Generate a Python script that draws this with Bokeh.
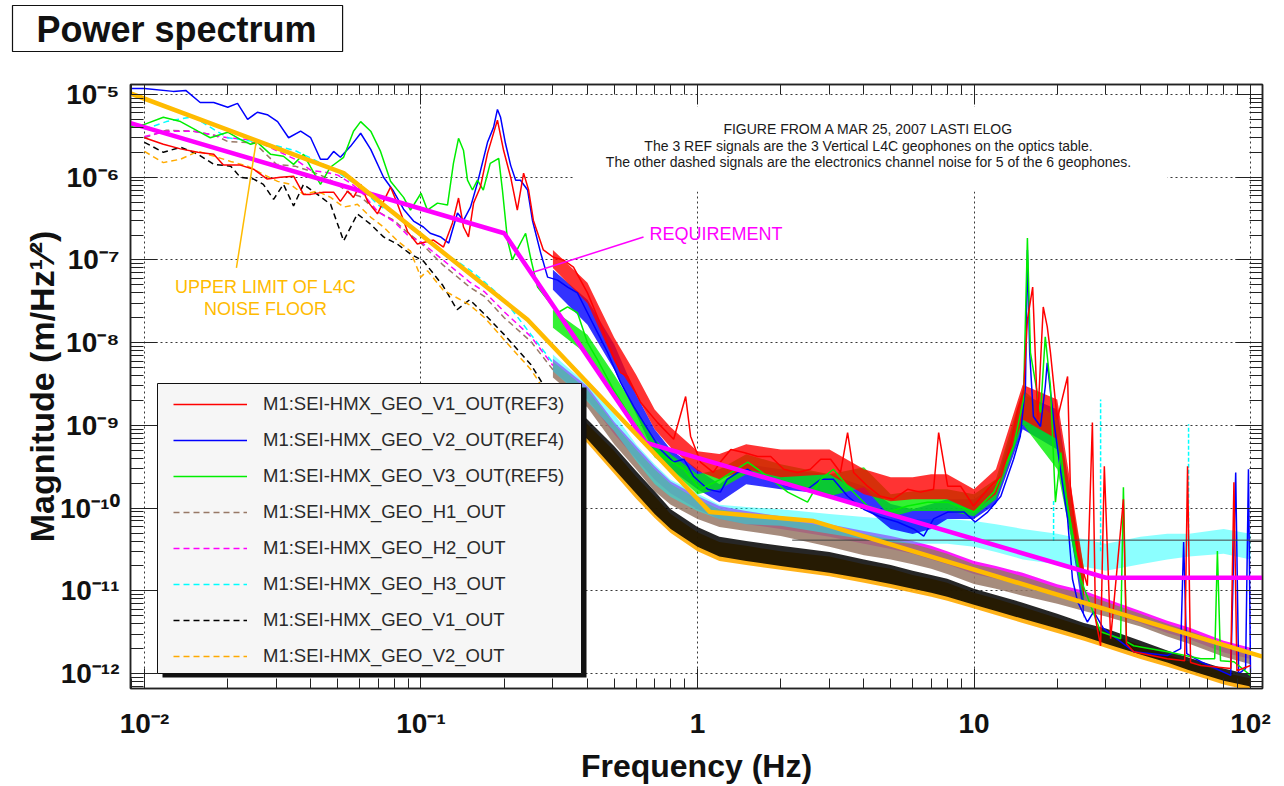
from bokeh.plotting import figure
from bokeh.models import (FixedTicker, LogAxis, Range1d, Label, BoxAnnotation,
                          Legend, LegendItem, Title)
from bokeh.embed import file_html
from bokeh.resources import INLINE

# ---------------- axis values ----------------
x_ticks = [0.01, 0.1, 1.0, 10.0, 100.0]
x_tick_labels = ["10\u207b\u00b2", "10\u207b\u00b9", "1", "10", "10\u00b2"]
y_ticks = [1e-12, 1e-11, 1e-10, 1e-9, 1e-8, 1e-7, 1e-6, 1e-5]
y_tick_labels = ["10\u207b\u00b9\u00b2", "10\u207b\u00b9\u00b9", "10\u207b\u00b9\u2070", "10\u207b\u2079",
                 "10\u207b\u2078", "10\u207b\u2077", "10\u207b\u2076", "10\u207b\u2075"]
X_MIN, X_MAX = 0.0089, 110.5
Y_MIN, Y_MAX = 6.6e-13, 1.32e-5
x_title = "Frequency (Hz)"
y_title = "Magnitude (m/Hz\u00b9\u2044\u00b2)"
chart_title = "Power spectrum"

# ---------------- series (freq Hz, magnitude) ----------------
red_pts = [(0.01,3.0e-6),(0.0117,2.5e-6),(0.0135,2.2e-6),(0.0156,2.0e-6),(0.0178,1.9e-6),(0.0193,1.4e-6),
 (0.0222,1.4e-6),(0.0248,1.25e-6),(0.0278,9.5e-7),(0.031,1.0e-6),(0.0346,1.03e-6),(0.0376,6.2e-7),(0.0399,6.2e-7),
 (0.0444,6.6e-7),(0.0483,6.6e-7),(0.0511,5.1e-7),(0.0543,6.8e-7),(0.057,5.7e-7),(0.0605,8.2e-7),(0.0641,5.1e-7),
 (0.0696,3.6e-7),(0.0732,5.1e-7),(0.0776,7.6e-7),(0.0823,4.7e-7),(0.0894,2.2e-7),(0.097,1.56e-7),(0.111,1.74e-7),
 (0.1206,1.43e-7),(0.130,2.8e-7),(0.1367,5.6e-7),(0.1425,2.5e-7),(0.1485,1.9e-7),(0.155,4.9e-7),(0.164,7.6e-7),
 (0.174,1.94e-6),(0.189,4.9e-6),(0.199,2.1e-6),(0.211,1.0e-6),(0.223,4.0e-7),(0.235,1.12e-6),(0.245,7.0e-7),
 (0.255,3.0e-7),(0.277,1.32e-7),(0.301,1.08e-7),(0.327,1.0e-7),(0.356,8.2e-8),(0.400,4.0e-8),(0.435,2.05e-8),
 (0.473,1.0e-8),(0.527,4.35e-9),(0.559,3.9e-9),(0.623,1.89e-9),(0.717,1.08e-9),(0.82,6.8e-10),(0.906,2.23e-9),
 (0.944,7.4e-10),(1.025,3.6e-10),(1.14,2.7e-10),(1.21,3.6e-10),(1.32,5.1e-10),(1.47,4.7e-10),(1.65,4.2e-10),
 (1.84,4.2e-10),(2.05,2.95e-10),(2.30,2.7e-10),(2.56,2.95e-10),(2.79,3.9e-10),(3.03,3.9e-10),(3.29,2.7e-10),
 (3.49,8.2e-10),(3.67,2.7e-10),(4.12,1.84e-10),(4.59,1.39e-10),(5.11,1.28e-10),(5.75,1.69e-10),(6.41,1.56e-10),
 (7.14,1.69e-10),(7.45,8.2e-10),(8.03,1.84e-10),(8.94,1.84e-10),(9.96,1.06e-10),(11.2,1.69e-10),(12.5,2.43e-10),
 (13.55,5.6e-10),(14.4,1.56e-9),(15.1,2.5e-9),(15.6,1.89e-8),(16.3,4.7e-8),(17.0,1.18e-9),(17.8,2.7e-8),
 (18.4,1.56e-8),(18.9,7.6e-9),(20.0,1.18e-9),(21.8,3.9e-9),(22.3,1.84e-10),(23.7,2.95e-11),(25.7,1.15e-11),
 (26.8,1.08e-9),(27.5,4.6e-12),(28.7,2.17e-12),(29.6,3.2e-10),(31.2,2.64e-12),(34.7,1.28e-10),(35.6,2.3e-12),
 (37.8,1.84e-12),(50.0,1.51e-12),(57.8,1.43e-12),(59.2,3.2e-10),(60.7,1.36e-12),(66.1,1.25e-12),(84.8,1.15e-12),
 (87.1,2.05e-10),(89.3,1.08e-12),(100,1.25e-12)]

blue_pts = [(0.0089,1.18e-5),(0.01,1.18e-5),(0.0127,1.09e-5),(0.0141,1.12e-5),(0.0159,8.0e-6),(0.0178,8.0e-6),
 (0.020,7.0e-6),(0.0217,7.8e-6),(0.0236,5.0e-6),(0.0256,6.1e-6),(0.0278,5.7e-6),(0.0303,4.7e-6),(0.0332,3.0e-6),
 (0.0367,3.6e-6),(0.0399,3.0e-6),(0.0433,1.65e-6),(0.0459,1.65e-6),(0.0483,2.05e-6),(0.0511,1.74e-6),
 (0.0556,2.36e-6),(0.0605,3.4e-6),(0.0658,2.17e-6),(0.0732,1.0e-6),(0.0795,6.8e-7),(0.0865,4.1e-7),(0.094,2.95e-7),
 (0.102,2.5e-7),(0.108,2.1e-7),(0.118,1.89e-7),(0.126,1.6e-7),(0.130,2.3e-7),(0.1355,3.7e-7),(0.1425,3.0e-7),
 (0.151,4.35e-7),(0.160,8.5e-7),(0.174,2.64e-6),(0.183,4.0e-6),(0.189,6.6e-6),(0.194,5.3e-6),(0.202,2.57e-6),
 (0.211,1.39e-6),(0.220,9.2e-7),(0.229,9.2e-7),(0.243,7.0e-7),(0.253,3.0e-7),(0.271,1.21e-7),(0.287,6.2e-8),
 (0.312,5.7e-8),(0.339,4.7e-8),(0.368,4.0e-8),(0.400,2.3e-8),(0.435,1.32e-8),(0.473,7.6e-9),(0.527,3.3e-9),
 (0.588,1.69e-9),(0.661,8.95e-10),(0.735,5.1e-10),(0.82,3.6e-10),(0.893,3.9e-10),(0.967,2.43e-10),(1.09,1.69e-10),
 (1.21,1.56e-10),(1.28,2.23e-10),(1.40,2.7e-10),(1.52,2.95e-10),(1.65,2.43e-10),(1.84,2.23e-10),(2.12,1.84e-10),
 (2.50,1.69e-10),(2.79,2.23e-10),(3.10,2.23e-10),(3.49,1.39e-10),(3.99,9.7e-11),(4.59,7.8e-11),(5.29,6.8e-11),
 (6.05,5.6e-11),(6.58,4.6e-11),(7.14,7.4e-11),(8.03,8.95e-11),(9.21,8.95e-11),(10.1,6.8e-11),(11.2,8.95e-11),
 (12.5,1.39e-10),(13.9,3.9e-10),(14.7,7.4e-10),(15.35,2.95e-9),(15.6,1.32e-7),(15.9,7.6e-9),(16.4,1.28e-9),
 (17.4,9.7e-10),(18.1,2.95e-9),(18.4,5.7e-9),(19.4,1.18e-9),(20.6,2.7e-10),(21.8,7.4e-11),(22.7,1.39e-11),
 (23.7,7.4e-12),(25.7,4.2e-12),(27.1,5.6e-12),(29.4,3.5e-12),(37.8,1.84e-12),(50,1.65e-12),(55.9,2.0e-12),
 (57.3,3.9e-11),(58.8,1.74e-12),(66.1,1.39e-12),(84.8,9.5e-13),(88.4,2.7e-10),(90.6,1.0e-12),(96,1.15e-12),
 (98.3,2.95e-10),(100,1.03e-12)]

green_pts = [(0.0089,4.1e-6),(0.01,4.35e-6),(0.0117,5.3e-6),(0.0135,4.7e-6),(0.0156,3.6e-6),(0.0173,3.0e-6),
 (0.020,3.5e-6),(0.0222,2.87e-6),(0.0242,2.5e-6),(0.0256,2.64e-6),(0.0286,1.89e-6),(0.0318,1.79e-6),(0.0346,1.43e-6),
 (0.0376,1.89e-6),(0.0399,1.32e-6),(0.0433,8.2e-7),(0.047,1.32e-6),(0.0525,1.74e-6),(0.057,3.6e-6),(0.0605,4.7e-6),
 (0.0658,3.6e-6),(0.0714,2.05e-6),(0.0776,8.95e-7),(0.0865,5.7e-7),(0.0916,4.0e-7),(0.1,6.4e-7),(0.1055,4.0e-7),
 (0.1147,4.86e-7),(0.1247,4.6e-7),(0.131,1.47e-6),(0.1367,2.95e-6),(0.1425,2.1e-6),(0.1473,9.2e-7),(0.1535,7.0e-7),
 (0.160,9.2e-7),(0.168,7.0e-7),(0.178,1.47e-6),(0.191,1.69e-6),(0.197,7.0e-7),(0.2055,1.74e-7),(0.214,1.0e-7),
 (0.225,1.43e-7),(0.239,2.1e-7),(0.250,1.0e-7),(0.264,4.7e-8),(0.287,3.3e-8),(0.312,2.3e-8),(0.339,2.7e-8),
 (0.368,2.3e-8),(0.400,1.0e-8),(0.435,6.2e-9),(0.497,2.7e-9),(0.559,1.43e-9),(0.623,7.4e-10),(0.69,5.1e-10),
 (0.779,3.9e-10),(0.893,2.95e-10),(1.025,1.69e-10),(1.21,2.23e-10),(1.52,3.6e-10),(1.79,2.43e-10),(2.12,1.56e-10),
 (2.50,1.18e-10),(2.79,2.23e-10),(3.10,2.95e-10),(3.49,1.84e-10),(4.12,1.06e-10),(4.87,8.95e-11),(5.75,1.06e-10),
 (6.79,1.18e-10),(8.03,1.18e-10),(10,8.95e-11),(11.8,1.56e-10),(13.9,5.6e-10),(15.1,2.05e-9),(15.6,1.84e-7),
 (16.0,7.6e-9),(17.4,1.43e-9),(18.1,1.18e-8),(18.9,2.95e-9),(19.7,1.18e-10),(20.6,4.7e-10),(21.8,1.06e-10),
 (22.9,4.2e-11),(24.3,1.39e-11),(28.7,3.2e-12),(33.9,2.64e-12),(34.7,1.79e-10),(35.6,2.43e-12),(37.8,2.17e-12),
 (50,1.84e-12),(66.1,1.51e-12),(74.2,1.51e-12),(75.9,3.03e-11),(77.9,1.43e-12),(87.1,1.39e-12),(100,9.5e-13)]

h1_pts = [(0.01,3.0e-6),(0.012,3.7e-6),(0.015,3.6e-6),(0.018,3.2e-6),(0.02,2.7e-6),(0.025,2.6e-6),(0.03,1.43e-6),
 (0.035,1.36e-6),(0.04,1.18e-6),(0.045,1.0e-6),(0.05,8.2e-7),(0.055,6.4e-7),(0.06,5.9e-7),(0.07,3.8e-7),(0.08,3.0e-7),
 (0.09,2.1e-7),(0.1,1.6e-7),(0.12,8.7e-8),(0.15,4.7e-8),(0.17,3.6e-8),(0.2,2.0e-8),(0.25,1.03e-8),(0.3,4.7e-9)]
h2_pts = [(0.01,3.1e-6),(0.012,3.6e-6),(0.015,3.6e-6),(0.018,3.2e-6),(0.02,3.0e-6),(0.025,2.8e-6),(0.03,2.1e-6),
 (0.035,1.65e-6),(0.04,1.21e-6),(0.045,1.15e-6),(0.05,1.06e-6),(0.055,8.7e-7),(0.06,7.0e-7),(0.07,3.8e-7),(0.08,2.9e-7),
 (0.09,1.95e-7),(0.1,1.65e-7),(0.12,1.0e-7),(0.15,5.4e-8),(0.17,4.1e-8),(0.2,2.36e-8),(0.25,1.18e-8),(0.3,5.3e-9)]
h3_pts = [(0.01,3.8e-6),(0.012,4.7e-6),(0.015,5.4e-6),(0.018,3.7e-6),(0.02,3.0e-6),(0.025,2.7e-6),(0.03,2.4e-6),
 (0.035,2.1e-6),(0.04,1.7e-6),(0.045,1.4e-6),(0.05,1.15e-6),(0.055,9.2e-7),(0.06,7.8e-7),(0.07,4.6e-7),(0.08,3.6e-7),
 (0.09,2.6e-7),(0.1,2.1e-7),(0.12,1.25e-7),(0.15,7.6e-8),(0.17,5.4e-8),(0.2,3.3e-8),(0.25,1.25e-8),(0.3,5.7e-9)]
v1_pts = [(0.01,2.64e-6),(0.0117,2.0e-6),(0.0135,2.3e-6),(0.0156,1.9e-6),(0.0178,1.43e-6),(0.0205,1.36e-6),
 (0.0222,1.0e-6),(0.0248,9.5e-7),(0.0269,8.2e-7),(0.0293,5.4e-7),(0.0318,8.2e-7),(0.0346,4.5e-7),(0.0376,8.2e-7),
 (0.0422,6.2e-7),(0.0471,4.7e-7),(0.0525,1.7e-7),(0.0589,3.6e-7),(0.0657,2.7e-7),(0.0732,1.9e-7),(0.0822,1.55e-7),
 (0.0916,1.18e-7),(0.102,9.7e-8),(0.12,4.9e-8),(0.135,2.5e-8),(0.15,3.3e-8),(0.17,2.2e-8),(0.2,1.25e-8),
 (0.25,5.4e-9),(0.3,2.0e-9)]
v2_pts = [(0.01,2.05e-6),(0.0117,1.5e-6),(0.0135,1.65e-6),(0.0156,2.05e-6),(0.0178,1.8e-6),(0.0205,1.55e-6),
 (0.0236,1.36e-6),(0.0269,1.08e-6),(0.0303,8.9e-7),(0.0337,8.2e-7),(0.0376,6.2e-7),(0.0422,6.8e-7),(0.0471,5.7e-7),
 (0.0525,4.35e-7),(0.0589,4.7e-7),(0.0657,3.3e-7),(0.0732,2.5e-7),(0.0822,1.7e-7),(0.0916,1.28e-7),(0.0998,6.2e-8),
 (0.1056,7.4e-8),(0.12,4.35e-8),(0.15,2.85e-8),(0.17,2.0e-8),(0.2,1.08e-8),(0.25,4.7e-9),(0.3,1.85e-9)]

# dense-noise envelopes (upper / lower edge of each fuzzy trace)
band_f = [0.3,0.4,0.5,0.6,0.7,0.8,1.0,1.2,1.5,2,3,4,5,6,7,8,10,12,15,20,25,30,40,50,60,80,100]
h1_hi = [5.9e-9,2.7e-9,1.03e-9,5.1e-10,2.95e-10,1.95e-10,1.28e-10,9.7e-11,8.5e-11,7.4e-11,5.9e-11,4.9e-11,4.2e-11,
 3.7e-11,3.2e-11,2.8e-11,2.1e-11,1.85e-11,1.5e-11,1.1e-11,9.2e-12,7.4e-12,5.3e-12,4.0e-12,3.3e-12,2.3e-12,1.9e-12]
h1_lo = [3.8e-9,1.65e-9,5.9e-10,2.95e-10,1.6e-10,1.1e-10,7.4e-11,5.9e-11,5.3e-11,4.6e-11,3.4e-11,2.7e-11,2.4e-11,
 2.1e-11,1.85e-11,1.6e-11,1.21e-11,1.06e-11,8.7e-12,7.0e-12,5.7e-12,4.9e-12,3.7e-12,2.8e-12,2.3e-12,1.6e-12,1.3e-12]
h2_hi = [6.4e-9,2.95e-9,1.1e-9,5.6e-10,3.2e-10,2.1e-10,1.4e-10,1.06e-10,9.2e-11,8.0e-11,6.4e-11,5.3e-11,4.6e-11,
 4.0e-11,3.5e-11,3.0e-11,2.3e-11,2.0e-11,1.65e-11,1.2e-11,1.0e-11,8.0e-12,5.7e-12,4.35e-12,3.6e-12,2.5e-12,2.05e-12]
h2_lo = [4.5e-9,2.05e-9,7.8e-10,3.9e-10,2.2e-10,1.5e-10,9.7e-11,7.4e-11,6.4e-11,5.6e-11,4.5e-11,3.7e-11,3.2e-11,
 2.8e-11,2.4e-11,2.1e-11,1.6e-11,1.4e-11,1.15e-11,8.5e-12,7.0e-12,5.6e-12,4.1e-12,3.1e-12,2.6e-12,1.8e-12,1.5e-12]
h3_hi = [7.2e-9,3.1e-9,1.36e-9,5.9e-10,3.4e-10,2.2e-10,1.5e-10,1.1e-10,1.03e-10,9.7e-11,8.5e-11,7.8e-11,7.4e-11,
 7.4e-11,7.4e-11,7.4e-11,7.0e-11,6.4e-11,5.6e-11,4.9e-11,4.2e-11,3.7e-11,4.5e-11,4.9e-11,4.9e-11,5.6e-11,4.9e-11]
h3_lo = [4.5e-9,1.95e-9,8.5e-10,3.7e-10,1.95e-10,1.36e-10,9.2e-11,7.4e-11,6.4e-11,6.1e-11,4.9e-11,4.2e-11,3.9e-11,
 3.7e-11,3.7e-11,3.7e-11,3.4e-11,2.95e-11,2.4e-11,2.1e-11,1.95e-11,1.75e-11,2.1e-11,2.4e-11,2.6e-11,2.8e-11,2.4e-11]
v1_hi = [2.7e-9,1.18e-9,5.6e-10,2.8e-10,1.6e-10,9.7e-11,5.9e-11,4.5e-11,4.0e-11,3.5e-11,2.95e-11,2.4e-11,2.05e-11,
 1.75e-11,1.55e-11,1.4e-11,1.06e-11,8.9e-12,7.2e-12,5.3e-12,4.1e-12,3.5e-12,2.5e-12,1.9e-12,1.55e-12,1.15e-12,9.7e-13]
v1_lo = [1.55e-9,6.8e-10,2.95e-10,1.5e-10,8.5e-11,5.6e-11,3.4e-11,2.6e-11,2.3e-11,2.0e-11,1.65e-11,1.4e-11,1.21e-11,
 1.06e-11,9.5e-12,8.5e-12,6.8e-12,5.7e-12,4.6e-12,3.5e-12,2.8e-12,2.3e-12,1.7e-12,1.36e-12,1.1e-12,8.2e-13,7.0e-13]
v2_hi = [2.36e-9,1.03e-9,4.9e-10,2.4e-10,1.4e-10,8.5e-11,5.1e-11,3.9e-11,3.5e-11,3.0e-11,2.6e-11,2.1e-11,1.85e-11,
 1.55e-11,1.4e-11,1.25e-11,9.5e-12,8.0e-12,6.4e-12,4.7e-12,3.7e-12,3.1e-12,2.2e-12,1.7e-12,1.4e-12,1.03e-12,8.7e-13]
v2_lo = [1.4e-9,6.1e-10,2.6e-10,1.3e-10,7.6e-11,5.0e-11,3.0e-11,2.3e-11,2.05e-11,1.8e-11,1.5e-11,1.25e-11,1.08e-11,
 9.5e-12,8.5e-12,7.6e-12,6.1e-12,5.1e-12,4.1e-12,3.1e-12,2.5e-12,2.05e-12,1.5e-12,1.21e-12,1.0e-12,7.4e-13,6.2e-13]

ref_band_f = [0.3,0.4,0.5,0.6,0.7,0.8,1.0,1.2,1.5,2,3,4,5,6,7,8,10,12,15,20,25]
red_hi = [1.32e-7,5.3e-8,1.15e-8,4.1e-9,1.56e-9,9.5e-10,4.86e-10,4.5e-10,5.9e-10,5.1e-10,5.1e-10,2.95e-10,2.36e-10,
 2.36e-10,2.57e-10,2.57e-10,1.69e-10,2.95e-10,3.1e-9,2.05e-9,1.84e-11]
red_lo = [8.0e-8,3.0e-8,5.9e-9,2.36e-9,8.95e-10,5.4e-10,2.8e-10,2.23e-10,2.95e-10,2.36e-10,2.57e-10,1.47e-10,1.21e-10,
 1.28e-10,1.28e-10,1.28e-10,9.2e-11,1.47e-10,1.18e-9,6.8e-10,8.0e-12]
blue_hi = [7.6e-8,3.3e-8,9.5e-9,2.36e-9,8.95e-10,5.1e-10,2.95e-10,1.94e-10,3.4e-10,2.95e-10,2.57e-10,1.84e-10,1.12e-10,
 9.7e-11,1.12e-10,1.28e-10,1.28e-10,1.94e-10,2.36e-9,1.56e-9,1.21e-11]
blue_lo = [4.35e-8,1.65e-8,4.7e-9,1.36e-9,4.47e-10,2.95e-10,1.69e-10,1.18e-10,1.94e-10,1.69e-10,1.47e-10,1.03e-10,5.6e-11,
 4.86e-11,5.6e-11,7.4e-11,7.4e-11,1.12e-10,8.95e-10,5.1e-10,4.6e-12]
green_hi = [2.5e-8,1.25e-8,4.1e-9,1.56e-9,6.8e-10,4.47e-10,2.57e-10,2.95e-10,4.47e-10,3.4e-10,2.57e-10,3.12e-10,1.47e-10,
 1.6e-10,1.69e-10,1.69e-10,1.47e-10,2.23e-10,2.71e-9,1.18e-9,1.84e-11]
green_lo = [1.51e-8,7.16e-9,2.36e-9,8.95e-10,4.1e-10,2.95e-10,1.47e-10,1.69e-10,2.57e-10,1.94e-10,1.39e-10,1.79e-10,7.8e-11,
 9.2e-11,9.2e-11,9.2e-11,8.0e-11,1.28e-10,1.03e-9,2.95e-10,7.0e-12]

# isolated H3 lines
h3_spike_f = [19.4, 28.7, 59.7]
h3_spike_base = [4.0e-11, 3.0e-11, 3.5e-11]
h3_spike_top = [1.29e-10, 2.06e-9, 1.03e-9]

# reference line at ~4e-11
flat_f = [2.2, 110.5]
flat_a = [4.1e-11, 4.1e-11]

# requirement and L4C noise-floor curves
req_f = [0.0089, 0.2, 0.65, 30.0, 110.5]
req_a = [4.5e-6, 2.1e-7, 6.2e-10, 1.44e-11, 1.44e-11]
lim_f = [0.0089, 0.0525, 0.243, 1.11, 2.63, 110.5]
lim_a = [1.03e-5, 1.12e-6, 1.89e-8, 8.95e-11, 6.97e-11, 1.6e-12]
req_ptr_f, req_ptr_a = [0.638, 0.251], [1.89e-7, 7.0e-8]
lim_ptr_f, lim_ptr_a = [0.0215, 0.0254], [8.0e-8, 2.8e-6]

legend_labels = ["M1:SEI-HMX_GEO_V1_OUT(REF3)", "M1:SEI-HMX_GEO_V2_OUT(REF4)", "M1:SEI-HMX_GEO_V3_OUT(REF5)",
                 "M1:SEI-HMX_GEO_H1_OUT", "M1:SEI-HMX_GEO_H2_OUT", "M1:SEI-HMX_GEO_H3_OUT",
                 "M1:SEI-HMX_GEO_V1_OUT", "M1:SEI-HMX_GEO_V2_OUT"]
header_lines = ["FIGURE FROM A MAR 25, 2007 LASTI ELOG",
                "The 3 REF signals are the 3 Vertical L4C geophones on the optics table.",
                "The other dashed signals are the electronics channel noise for 5 of the 6 geophones."]

# ---------------- layout constants (page pixels) ----------------
W, H = 1284, 786
FL, FT, FR, FB = 130, 84, 1262, 690
def sx(px): return px - FL
def sy(py): return FB - py

FONT = "Liberation Sans"
RED, BLUE, GREEN = "#ff0000", "#0000ff", "#00ee00"
BROWN, MAGENTA, CYAN, BLACK, ORANGE = "#977866", "#ff00ff", "#00ffff", "#000000", "#ffaa00"
THICK_ORANGE = "#ffbb00"

x_minor = [m * 10.0 ** n for n in range(-3, 3) for m in range(2, 10)]
y_minor = [m * 10.0 ** n for n in range(-13, -4) for m in range(2, 10)]
xt = FixedTicker(ticks=x_ticks, minor_ticks=x_minor)
yt = FixedTicker(ticks=y_ticks, minor_ticks=y_minor)

p = figure(width=W, height=H, x_axis_type="log", y_axis_type="log",
           x_range=Range1d(X_MIN, X_MAX), y_range=Range1d(Y_MIN, Y_MAX),
           output_backend="svg", toolbar_location=None, title=None,
           min_border_left=FL, min_border_top=FT,
           min_border_right=W - FR, min_border_bottom=H - FB)
p.background_fill_color = "white"
p.border_fill_color = "white"
p.outline_line_color = "#222222"
p.outline_line_width = 1.5

def style_axis(ax, major, minor):
    ax.major_tick_in = major
    ax.major_tick_out = 0
    ax.minor_tick_in = minor
    ax.minor_tick_out = 0
    ax.major_tick_line_color = "#222222"
    ax.minor_tick_line_color = "#222222"
    ax.axis_line_color = "#222222"
    ax.axis_line_width = 1.5
    ax.major_label_text_font = FONT
    ax.major_label_text_font_style = "bold"
    ax.major_label_text_font_size = "28px"
    ax.major_label_text_color = "#111111"
    ax.axis_label_text_font = FONT
    ax.axis_label_text_font_style = "bold"
    ax.axis_label_text_color = "#111111"

xa = p.xaxis[0]
xa.ticker = xt
style_axis(xa, 20, 10)
xa.major_label_overrides = dict(zip(x_ticks, x_tick_labels))
xa.major_label_standoff = 19
xa.axis_label = x_title
xa.axis_label_text_font_size = "32px"
xa.axis_label_standoff = 6

ya = p.yaxis[0]
ya.ticker = yt
style_axis(ya, 27, 13)
ya.major_label_overrides = dict(zip(y_ticks, y_tick_labels))
ya.major_label_standoff = 11
ya.axis_label = y_title
ya.axis_label_text_font_size = "34px"
ya.axis_label_standoff = -4

# tick-only axes on the top and right edges; the top one keeps a blank
# label slot so that the boxed title sits higher in the margin
top_ax = LogAxis(ticker=xt)
style_axis(top_ax, 20, 10)
top_ax.major_label_text_font_size = "1px"
top_ax.major_label_text_alpha = 0.0
top_ax.major_label_standoff = 0
top_ax.axis_label = "\u00a0"
top_ax.axis_label_text_font_size = "26px"
top_ax.axis_label_text_alpha = 0.0
top_ax.axis_label_standoff = 0
p.add_layout(top_ax, "above")
right_ax = LogAxis(ticker=yt)
style_axis(right_ax, 27, 13)
right_ax.major_label_text_font_size = "1px"
right_ax.major_label_text_alpha = 0.0
right_ax.major_label_standoff = 0
p.add_layout(right_ax, "right")

# boxed title in the top margin
title = Title(text=chart_title, align="left", offset=-118, standoff=0,
              text_font=FONT, text_font_size="36px", text_font_style="bold", text_color="#111111",
              background_fill_color="white", border_line_color="#111111", border_line_width=1.2,
              padding=dict(left=24, right=26, top=3, bottom=2))
p.add_layout(title, "above")

for g, t in ((p.xgrid[0], xt), (p.ygrid[0], yt)):
    g.ticker = t
    g.grid_line_color = "#222222"
    g.grid_line_dash = "2 3"
    g.grid_line_width = 1
    g.grid_line_alpha = 0.9

def xy(pts):
    return [a for a, _ in pts], [b for _, b in pts]

DASH = "6 4"
# noise envelopes (dense part)
p.varea(x=band_f, y1=h2_lo, y2=h2_hi, fill_color=MAGENTA, fill_alpha=0.9)
p.varea(x=band_f, y1=h1_lo, y2=h1_hi, fill_color=BROWN, fill_alpha=0.85)
p.varea(x=band_f, y1=h3_lo, y2=h3_hi, fill_color=CYAN, fill_alpha=0.45)
p.varea(x=band_f, y1=v2_lo, y2=v2_hi, fill_color=ORANGE, fill_alpha=0.9)
p.varea(x=band_f, y1=v1_lo, y2=v1_hi, fill_color=BLACK, fill_alpha=0.85)
p.segment(x0=h3_spike_f, y0=h3_spike_base, x1=h3_spike_f, y1=h3_spike_top,
          line_color=CYAN, line_width=1.5, line_dash="4 2")
# noise traces (sparse part)
fx, ay = xy(h1_pts); r_h1 = p.line(fx, ay, line_color=BROWN, line_width=1.5, line_dash=DASH)
fx, ay = xy(h2_pts); r_h2 = p.line(fx, ay, line_color=MAGENTA, line_width=1.5, line_dash=DASH)
fx, ay = xy(h3_pts); r_h3 = p.line(fx, ay, line_color=CYAN, line_width=1.5, line_dash=DASH)
fx, ay = xy(v1_pts); r_v1 = p.line(fx, ay, line_color=BLACK, line_width=1.5, line_dash=DASH)
fx, ay = xy(v2_pts); r_v2 = p.line(fx, ay, line_color=ORANGE, line_width=1.5, line_dash=DASH)

# REF traces
p.varea(x=ref_band_f, y1=blue_lo, y2=blue_hi, fill_color=BLUE, fill_alpha=0.8)
p.varea(x=ref_band_f, y1=green_lo, y2=green_hi, fill_color=GREEN, fill_alpha=0.8)
p.varea(x=ref_band_f, y1=red_lo, y2=red_hi, fill_color=RED, fill_alpha=0.8)
fx, ay = xy(blue_pts); r_blue = p.line(fx, ay, line_color=BLUE, line_width=1.5)
fx, ay = xy(green_pts); r_green = p.line(fx, ay, line_color=GREEN, line_width=1.5)
fx, ay = xy(red_pts); r_red = p.line(fx, ay, line_color=RED, line_width=1.5)

p.line(flat_f, flat_a, line_color="#444444", line_width=1)

# requirement / noise floor
p.line(req_f, req_a, line_color=MAGENTA, line_width=4.5)
p.line(lim_f, lim_a, line_color=THICK_ORANGE, line_width=4.5)
p.line(req_ptr_f, req_ptr_a, line_color=MAGENTA, line_width=1.5)
p.line(lim_ptr_f, lim_ptr_a, line_color=THICK_ORANGE, line_width=1.5)

# ---------------- annotations (inside the frame) ----------------
def box(l, t, r, b, fill, line=None, lw=1):
    ba = BoxAnnotation(left=sx(l), right=sx(r), top=sy(t), bottom=sy(b),
                       left_units="screen", right_units="screen", top_units="screen", bottom_units="screen",
                       fill_color=fill, fill_alpha=1.0, line_color=line, line_width=lw, line_alpha=1.0)
    p.add_layout(ba)

def label(text, px, py, size, color="#111111", style="normal", align="center", baseline="middle"):
    lb = Label(x=sx(px), y=sy(py), x_units="screen", y_units="screen", text=text,
               text_font=FONT, text_font_size=size, text_font_style=style, text_color=color,
               text_align=align, text_baseline=baseline)
    p.add_layout(lb)

# header note (white box hides the grid behind it)
box(573, 108, 1167, 193, "white")
for txt, yy in zip(header_lines, [130, 147, 163]):
    label(txt, 868, yy, "14px", color="#1a1a1a")

label("REQUIREMENT", 649, 235, "18px", color=MAGENTA, align="left")
label("UPPER LIMIT OF L4C", 265, 288, "18px", color=THICK_ORANGE)
label("NOISE FLOOR", 265, 310, "18px", color=THICK_ORANGE)

# legend box with shadow
box(162, 389, 586, 679, "#111111")
box(157, 385, 581, 675, "#f6f6f6", line="#111111", lw=1)
items = [LegendItem(label=lab, renderers=[r]) for lab, r in
         zip(legend_labels, [r_red, r_blue, r_green, r_h1, r_h2, r_h3, r_v1, r_v2])]
legend = Legend(items=items, location=(sx(173), sy(669)), orientation="vertical",
                border_line_color=None, background_fill_alpha=0.0, padding=0, margin=0,
                spacing=14, glyph_width=74, glyph_height=20, label_height=20, label_standoff=16,
                label_text_font=FONT, label_text_font_size="18.5px", label_text_color="#2a2a2a")
p.add_layout(legend)

open("out.html", "w").write(file_html(p, INLINE))
